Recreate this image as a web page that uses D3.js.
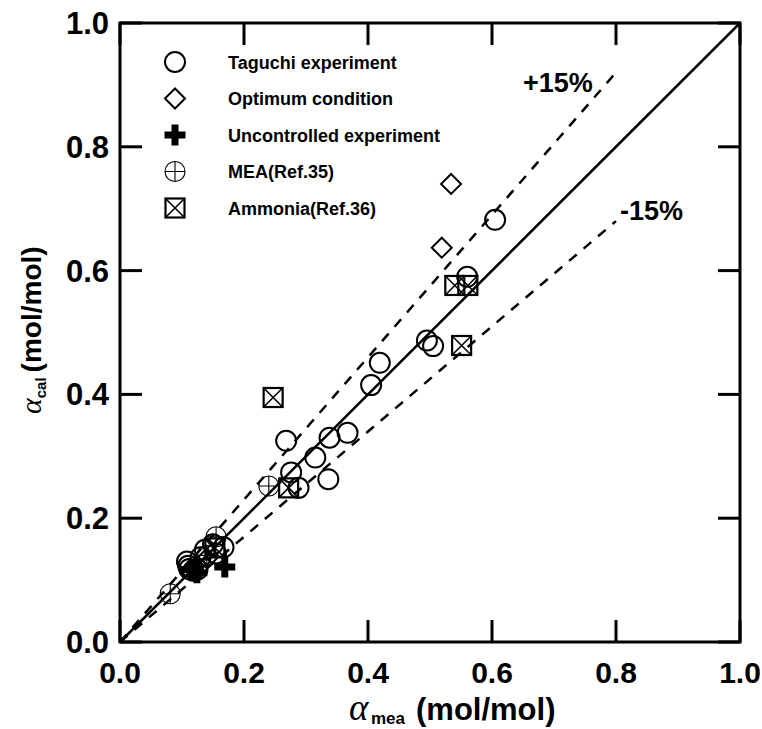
<!DOCTYPE html>
<html>
<head>
<meta charset="utf-8">
<script src="https://cdn.jsdelivr.net/npm/d3@7"></script>
<style>
  body { margin: 0; background: #fff; }
  text { font-family: Arial, "Liberation Sans", sans-serif; font-weight: bold; fill: #000; }
</style>
</head>
<body>
<svg id="chart" width="762" height="729"></svg>
<script>
// measured vs calculated loading, [mea, cal]
var taguchi = [
  [0.605, 0.682], [0.560, 0.590], [0.495, 0.487], [0.505, 0.478], [0.419, 0.451],
  [0.405, 0.415], [0.367, 0.338], [0.338, 0.330], [0.315, 0.298], [0.268, 0.325],
  [0.336, 0.263], [0.276, 0.274], [0.288, 0.249], [0.108, 0.130], [0.110, 0.123],
  [0.112, 0.118], [0.118, 0.115], [0.137, 0.149], [0.130, 0.137], [0.150, 0.158],
  [0.167, 0.153], [0.155, 0.143], [0.125, 0.117]
];
var optimum = [[0.534, 0.740], [0.519, 0.637], [0.140, 0.135]];
var uncontrolled = [[0.169, 0.121], [0.124, 0.112], [0.115, 0.117]];
var mea = [[0.081, 0.078], [0.240, 0.252], [0.155, 0.170], [0.111, 0.118], [0.140, 0.140]];
var ammonia = [[0.540, 0.576], [0.561, 0.576], [0.551, 0.479], [0.247, 0.395], [0.272, 0.249], [0.153, 0.152]];

var legendNames = ["Taguchi experiment", "Optimum condition", "Uncontrolled experiment", "MEA(Ref.35)", "Ammonia(Ref.36)"];
var ticks = [0, 0.2, 0.4, 0.6, 0.8, 1.0];
var bands = [{k: 1.15, label: "+15%"}, {k: 0.85, label: "-15%"}];

var svg = d3.select("#chart");
var x = d3.scaleLinear().domain([0, 1]).range([120, 740]);
var y = d3.scaleLinear().domain([0, 1]).range([642, 23]);

// frame
svg.append("rect")
  .attr("x", x(0)).attr("y", y(1))
  .attr("width", x(1) - x(0)).attr("height", y(0) - y(1))
  .attr("fill", "none").attr("stroke", "#000").attr("stroke-width", 3);

// inward ticks on all four sides
var tl = 22;
var tk = svg.append("g").attr("stroke", "#000").attr("stroke-width", 3);
ticks.forEach(function(t) {
  tk.append("line").attr("x1", x(t)).attr("x2", x(t)).attr("y1", y(0)).attr("y2", y(0) - tl);
  tk.append("line").attr("x1", x(t)).attr("x2", x(t)).attr("y1", y(1)).attr("y2", y(1) + tl);
  tk.append("line").attr("x1", x(0)).attr("x2", x(0) + tl).attr("y1", y(t)).attr("y2", y(t));
  tk.append("line").attr("x1", x(1)).attr("x2", x(1) - tl).attr("y1", y(t)).attr("y2", y(t));
});

// tick labels
svg.append("g").selectAll("text").data(ticks).enter().append("text")
  .attr("x", 109).attr("y", function(d) { return y(d) + 11; })
  .attr("text-anchor", "end").attr("font-size", 31)
  .text(function(d) { return d3.format(".1f")(d); });
svg.append("g").selectAll("text").data(ticks).enter().append("text")
  .attr("x", function(d) { return x(d); }).attr("y", 683)
  .attr("text-anchor", "middle").attr("font-size", 30)
  .text(function(d) { return d3.format(".1f")(d); });

// axis titles
var xt = svg.append("text").attr("x", 349).attr("y", 720);
xt.append("tspan").attr("font-family", "'Liberation Serif', serif").attr("font-style", "italic")
  .attr("font-weight", "normal").attr("font-size", 37).text("α");
xt.append("tspan").attr("font-size", 17).attr("x", 371).attr("dy", 4).text("mea");
xt.append("tspan").attr("font-size", 31).attr("x", 416).attr("dy", -4).text("(mol/mol)");

var yt = svg.append("text").attr("transform", "translate(41,414) rotate(-90)");
yt.append("tspan").attr("font-family", "'Liberation Serif', serif").attr("font-style", "italic")
  .attr("font-weight", "normal").attr("font-size", 30).text("α");
yt.append("tspan").attr("font-size", 15).attr("dy", 5).text("cal");
yt.append("tspan").attr("font-size", 28).attr("dy", -5).attr("dx", 5).text("(mol/mol)");

// 1:1 and +-15% lines
svg.append("line")
  .attr("x1", x(0)).attr("y1", y(0)).attr("x2", x(1)).attr("y2", y(1))
  .attr("stroke", "#000").attr("stroke-width", 2.5);
bands.forEach(function(b) {
  svg.append("line")
    .attr("x1", x(0)).attr("y1", y(0)).attr("x2", x(0.8)).attr("y2", y(0.8 * b.k))
    .attr("stroke", "#000").attr("stroke-width", 2.5).attr("stroke-dasharray", "10,9");
});
svg.append("text").attr("x", 523).attr("y", 92).attr("font-size", 27).text(bands[0].label);
svg.append("text").attr("x", 620).attr("y", 220).attr("font-size", 27).text(bands[1].label);

// marker drawers
var r = 10;
function circleMark(g) {
  g.append("circle").attr("r", r).attr("fill", "none").attr("stroke", "#000").attr("stroke-width", 2);
}
function diamondMark(g) {
  g.append("path").attr("d", "M0,-10L10,0L0,10L-10,0Z").attr("fill", "none").attr("stroke", "#000").attr("stroke-width", 2);
}
function plusMark(g) {
  g.append("path").attr("d", "M-3.5,-10.5H3.5V-3.5H10.5V3.5H3.5V10.5H-3.5V3.5H-10.5V-3.5H-3.5Z").attr("fill", "#000");
}
function meaMark(g) {
  g.append("circle").attr("r", r).attr("fill", "none").attr("stroke", "#000").attr("stroke-width", 1.1);
  g.append("path").attr("d", "M-10,0H10M0,-10V10").attr("stroke", "#000").attr("stroke-width", 1.1);
}
function boxMark(g) {
  g.append("rect").attr("x", -9.5).attr("y", -9.5).attr("width", 19).attr("height", 19)
    .attr("fill", "none").attr("stroke", "#000").attr("stroke-width", 2.2);
  g.append("path").attr("d", "M-9.5,-9.5L9.5,9.5M9.5,-9.5L-9.5,9.5").attr("stroke", "#000").attr("stroke-width", 1.6);
}

var series = [
  {data: taguchi, mark: circleMark},
  {data: optimum, mark: diamondMark},
  {data: uncontrolled, mark: plusMark},
  {data: mea, mark: meaMark},
  {data: ammonia, mark: boxMark}
];

series.forEach(function(s) {
  svg.append("g").selectAll("g").data(s.data).enter().append("g")
    .attr("transform", function(d) { return "translate(" + x(d[0]) + "," + y(d[1]) + ")"; })
    .each(function() { s.mark(d3.select(this)); });
});

// legend
var lg = svg.append("g");
legendNames.forEach(function(name, i) {
  var ly = 62 + i * 36.5;
  var g = lg.append("g").attr("transform", "translate(175," + ly + ")");
  series[i].mark(g);
  lg.append("text").attr("x", 228).attr("y", ly + 6.5).attr("font-size", 18).text(name);
});
</script>
</body>
</html>
